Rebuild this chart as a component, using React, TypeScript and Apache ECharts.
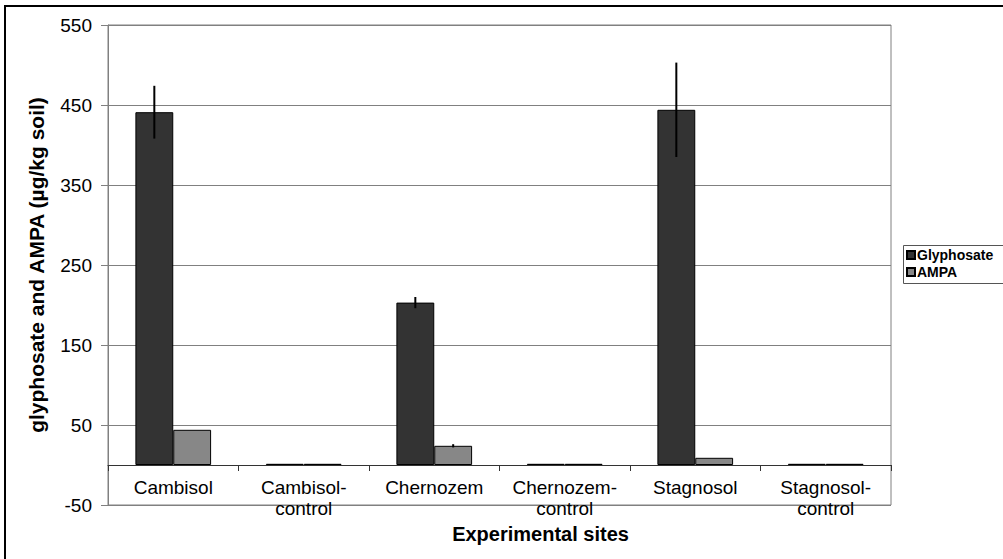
import React, { useEffect, useRef } from "react";
import * as echarts from "echarts";

const categories = [
  "Cambisol",
  "Cambisol-\ncontrol",
  "Chernozem",
  "Chernozem-\ncontrol",
  "Stagnosol",
  "Stagnosol-\ncontrol",
];
const glyphosate = [441, 1.5, 203, 1.5, 444, 1.5];
const glyphosateErr = [33, 0, 7, 0, 59, 0];
const ampa = [44, 1.5, 24, 1.5, 9, 1.5];
const ampaErr = [0, 0, 2, 0, 0, 0];
const yTicks = { min: -50, max: 550, interval: 100 };

const FONT = "Liberation Sans, Arial, sans-serif";
const CAT_GAP = 0.42;

function errorSeries(name: string, values: number[], errs: number[], side: number) {
  return {
    name: name + "-err",
    type: "custom",
    silent: true,
    z: 5,
    data: values.map((v, i) => [i, v, errs[i]]),
    renderItem: (params: any, api: any) => {
      const err = api.value(2);
      if (!err) return null;
      const cat = api.value(0);
      const val = api.value(1);
      const band = api.size([1, 0])[0];
      const bw = (band * (1 - CAT_GAP)) / 2;
      const top = api.coord([cat, val + err]);
      const bot = api.coord([cat, val - err]);
      const x = top[0] + (side * bw) / 2;
      return {
        type: "line",
        shape: { x1: x, y1: top[1], x2: x, y2: bot[1] },
        style: { stroke: "#000", lineWidth: 2 },
      };
    },
  };
}

export default function App() {
  const ref = useRef<HTMLDivElement>(null);
  useEffect(() => {
    if (!ref.current) return;
    const chart = echarts.init(ref.current, null, { renderer: "svg" });
    chart.setOption({
      animation: false,
      backgroundColor: "#fff",
      textStyle: { fontFamily: FONT },
      grid: {
        left: 108,
        right: 112,
        top: 25,
        bottom: 54,
        containLabel: false,
        outerBoundsMode: "none",
        show: true,
        borderColor: "#808080",
        borderWidth: 1,
        backgroundColor: "transparent",
      },
      legend: {
        orient: "vertical",
        left: 906,
        top: 248,
        padding: 0,
        itemWidth: 8,
        itemHeight: 8,
        itemGap: 3,
        icon: "rect",
        data: ["Glyphosate", "AMPA"],
        textStyle: { fontFamily: FONT, fontSize: 14, fontWeight: "bold", color: "#000", padding: [0, 0, 0, -3] },
      },
      graphic: [
        {
          type: "rect",
          shape: { x: 5, y: 6, width: 1200, height: 700 },
          style: { fill: "none", stroke: "#000", lineWidth: 2 },
          silent: true,
        },
        {
          type: "rect",
          shape: { x: 903.5, y: 245.5, width: 200, height: 38 },
          style: { fill: "none", stroke: "#555", lineWidth: 1 },
          silent: true,
        },
      ],
      xAxis: {
        type: "category",
        data: categories,
        name: "Experimental sites",
        nameLocation: "middle",
        nameGap: 18,
        nameTextStyle: {
          fontFamily: FONT,
          fontSize: 20,
          fontWeight: "bold",
          color: "#000",
          padding: [0, 0, 0, 82],
        },
        axisLine: { onZero: true, lineStyle: { color: "#333", width: 1 } },
        axisTick: { show: true, length: 6, interval: 0, lineStyle: { color: "#333" } },
        axisLabel: {
          interval: 0,
          margin: -28,
          fontFamily: FONT,
          fontSize: 19,
          lineHeight: 21,
          color: "#000",
        },
        splitLine: { show: false },
      },
      yAxis: {
        type: "value",
        min: yTicks.min,
        max: yTicks.max,
        interval: yTicks.interval,
        name: "glyphosate and AMPA (µg/kg soil)",
        nameLocation: "middle",
        nameGap: 61,
        nameTextStyle: { fontFamily: FONT, fontSize: 21, fontWeight: "bold", color: "#000" },
        axisLine: { show: true, lineStyle: { color: "#808080", width: 1 } },
        axisTick: { show: true, length: 7, lineStyle: { color: "#808080" } },
        axisLabel: { margin: 16, fontFamily: FONT, fontSize: 19, color: "#000" },
        splitLine: { show: true, lineStyle: { color: "#808080", width: 1 } },
      },
      series: [
        {
          name: "Glyphosate",
          type: "bar",
          data: glyphosate,
          barGap: "0%",
          barCategoryGap: CAT_GAP * 100 + "%",
          itemStyle: { color: "#333333", borderColor: "#000", borderWidth: 1 },
        },
        {
          name: "AMPA",
          type: "bar",
          data: ampa,
          barGap: "0%",
          barCategoryGap: CAT_GAP * 100 + "%",
          itemStyle: { color: "#878787", borderColor: "#000", borderWidth: 1 },
        },
        errorSeries("Glyphosate", glyphosate, glyphosateErr, -1),
        errorSeries("AMPA", ampa, ampaErr, 1),
      ],
    });
    return () => chart.dispose();
  }, []);
  return (
    <div
      ref={ref}
      style={{ position: "absolute", left: 0, top: 0, width: 1003, height: 559 }}
    />
  );
}
